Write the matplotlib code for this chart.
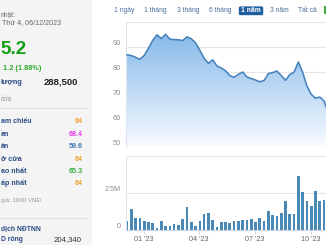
import matplotlib
matplotlib.use('Agg')
import matplotlib.pyplot as plt
import matplotlib.dates as mdates
from matplotlib.transforms import offset_copy
from matplotlib.patches import Rectangle, FancyBboxPatch
from matplotlib.colors import LinearSegmentedColormap
from matplotlib.lines import Line2D
import numpy as np
import pandas as pd

plt.rcParams['font.family'] = ['Liberation Sans', 'DejaVu Sans']

# ---------------- data ----------------
week_start = '2022-12-04'
prices = [87.0, 86.7, 86.0, 85.2, 86.7, 89.6, 92.8, 95.0, 93.5, 95.2,
          93.3, 93.1, 93.0, 92.7, 94.2, 93.4, 91.8, 88.8, 85.6, 83.6,
          85.0, 82.5, 81.7, 80.6, 78.7, 78.0, 79.2, 80.1, 78.1, 77.5,
          76.9, 76.2, 76.7, 79.5, 79.9, 80.5, 78.7, 76.8, 79.1, 80.1,
          84.1, 80.0, 74.5, 71.2, 69.6, 70.1, 68.5, 63.5, 62.8, 63.2,
          64.0, 64.0, 65.2]
volumes_m = [0.61, 1.41, 0.82, 0.80, 0.59, 0.57, 0.48, 0.11, 0.61, 0.30,
             0.30, 0.41, 0.32, 0.75, 1.55, 0.55, 0.30, 0.64, 1.11, 1.16,
             0.70, 0.18, 0.55, 0.55, 0.48, 0.64, 0.64, 0.70, 0.70, 0.73,
             0.55, 0.80, 0.64, 1.27, 1.02, 0.93, 1.16, 1.95, 1.11, 1.07,
             3.64, 2.59, 1.95, 1.61, 2.66, 1.98, 2.05, 2.30, 1.80, 1.60,
             1.50, 1.40, 0.29]
price_ticks = [50, 60, 70, 80, 90]
vol_ticks = [0, 2.5]
vol_tick_labels = ['0', '2.5M']
month_ticks = ['2023-01-01', '2023-04-01', '2023-07-01', '2023-10-01']
month_labels = ["01 '23", "04 '23", "07 '23", "10 '23"]
range_buttons = ['1 ngày', '1 tháng', '3 tháng', '6 tháng', '1 năm', '3 năm', 'Tất cả']
selected_button = '1 năm'

# visible (cropped) parts of the info panel labels
info_labels = ['am chiếu', 'ần', 'àn', 'ở cửa', 'ao nhất', 'ấp nhất']
info_values = ['64', '68.4', '59.6', '64', '65.3', '64']
info_colors = ['#f0a030', '#e838e8', '#3f78b8', '#f0a030', '#3cb043', '#f0a030']

last_price = '5.2'
change_text = '1.2 (1.88%)'
update_label = 'nhật:'
update_date = 'Thứ 4, 06/12/2023'
volume_label = 'lượng'
volume_text = '288,500'
close_label = 'cửa'
unit_text = 'giá: 1000 VNĐ'
foreign_title = 'dịch NĐTNN'
foreign_label = 'D ròng'
foreign_net = '204,340'

# ---------------- figure ----------------
W, H, DPI = 326, 245, 100
fig = plt.figure(figsize=(W / DPI, H / DPI), dpi=DPI)
fig.patch.set_facecolor('white')


def fx(x):
    return x / W


def fy(y):
    return 1 - y / H


def ftext(x, y, s, ha='left', va='center', **kw):
    fig.text(fx(x), fy(y), s, ha=ha, va=va, **kw)


# left info panel
fig.add_artist(Rectangle((0, 0), fx(92), 1, transform=fig.transFigure,
                         facecolor='#f4f4f4', edgecolor='none', zorder=0))
for yy in (108, 218):
    fig.add_artist(Line2D([0, fx(87)], [fy(yy), fy(yy)], transform=fig.transFigure,
                          color='#e2e2e2', lw=0.8))

label_col = '#2b4c85'
L = 0.6
ftext(L, 15, update_label, color='#666666', fontsize=4.8)
ftext(2.5, 22.7, update_date, color='#666666', fontsize=5.1)
ftext(L, 50, last_price, color='#11a011', fontsize=13.6, fontweight='bold')
ftext(3.3, 68.3, change_text, color='#2eaa2e', fontsize=5.3, fontweight='bold')
ftext(L, 82.7, volume_label, color=label_col, fontsize=5.3, fontweight='bold')
ftext(77.5, 81.5, volume_text, ha='right', color='#222222', fontsize=6.8, fontweight='bold')
ftext(L, 99.3, close_label, color='#9a9a9a', fontsize=4.8)

row_y = [121.5, 134.5, 146.7, 159.3, 171.7, 183.3]
label_size = [5.0, 5.1, 5.1, 5.3, 5.1, 5.1]
for lab, val, col, yy, fs in zip(info_labels, info_values, info_colors, row_y, label_size):
    ftext(L, yy, lab, color=label_col, fontsize=fs, fontweight='bold')
    ftext(82.5, yy, val, ha='right', color=col, fontsize=5.1, fontweight='bold')

ftext(L, 200.7, unit_text, color='#9a9a9a', fontsize=4.4)
ftext(L, 228.3, foreign_title, color=label_col, fontsize=4.9, fontweight='bold')
ftext(L, 239.5, foreign_label, color=label_col, fontsize=4.9, fontweight='bold')
ftext(82, 240, foreign_net, ha='right', color='#333333', fontsize=5.6)

# range buttons
btn_x = [124.3, 155.7, 188.0, 220.7, 251.0, 279.5, 307.3]
for name, bx in zip(range_buttons, btn_x):
    if name == selected_button:
        fig.add_artist(FancyBboxPatch((fx(238.8), fy(15.2)), fx(24.4), 8.8 / H,
                                      boxstyle='round,pad=0,rounding_size=0.006',
                                      transform=fig.transFigure, facecolor='#1f5e9c',
                                      edgecolor='none'))
        ftext(bx, 10.4, name, ha='center', color='white', fontsize=4.9, fontweight='bold')
    else:
        ftext(bx, 10.4, name, ha='center', color='#4b6d9c', fontsize=4.9)
fig.add_artist(Rectangle((fx(323.5), fy(14.5)), fx(2.2), 8 / H, transform=fig.transFigure,
                         facecolor='#3cb043', edgecolor='none'))

# ---------------- charts ----------------
dates = pd.date_range(week_start, periods=len(prices), freq='7D')
x = mdates.date2num(dates)
x0 = mdates.date2num(pd.Timestamp('2022-12-01 12:00'))
x1 = mdates.date2num(pd.Timestamp('2023-12-06'))
ax_left, ax_w = 125.5, 226.1

ax_p = fig.add_axes([fx(ax_left), fy(147.3), ax_w / W, 125 / H])
ax_v = fig.add_axes([fx(ax_left), fy(230), ax_w / W, 74 / H])

# price area
ymin, ymax = 50, 100
poly = ax_p.fill_between(x, prices, ymin, color='none', lw=0)
cmap = LinearSegmentedColormap.from_list('g', ['#f8fbff', '#7bb3e8'])
grad = np.linspace(1, 0, 256).reshape(-1, 1)
im = ax_p.imshow(grad, extent=[x0, x1, ymin, ymax], aspect='auto', cmap=cmap,
                 origin='upper', zorder=1, interpolation='bilinear')
im.set_clip_path(poly.get_paths()[0], transform=ax_p.transData)
ax_p.plot(x, prices, color='#4683bd', lw=1.15, zorder=3, solid_joinstyle='round')
ax_p.set_xlim(x0, x1)
ax_p.set_ylim(ymin, ymax)
ax_p.set_yticks(price_ticks + [100])
ax_p.yaxis.grid(True, color='#e6e6e6', lw=0.8)
ax_p.set_axisbelow(True)
ax_p.tick_params(left=False, bottom=False, labelleft=False, labelbottom=False)
for s in ('top', 'right', 'bottom'):
    ax_p.spines[s].set_visible(False)
ax_p.spines['left'].set_color('#dfe5ee')
ax_p.spines['left'].set_linewidth(0.8)
tr = offset_copy(ax_p.get_yaxis_transform(), fig=fig, x=-4.8, y=4, units='dots')
for v in price_ticks:
    ax_p.text(0, v, str(v), transform=tr, ha='right', va='center', fontsize=5.3, color='#8a8a8a')

# volume bars
vols = [v * 1e6 for v in volumes_m]
ax_v.bar(x, vols, width=4.4, color='#4a88b5', zorder=2)
ax_v.set_xlim(x0, x1)
ax_v.set_ylim(0, 5e6)
ax_v.set_yticks([2.5e6, 5e6])
ax_v.yaxis.grid(True, color='#e6e6e6', lw=0.8)
ax_v.set_axisbelow(True)
ax_v.tick_params(left=False, labelleft=False)
mt = mdates.date2num(pd.to_datetime(month_ticks))
ax_v.set_xticks(mt)
ax_v.set_xticklabels(month_labels)
ax_v.tick_params(axis='x', length=2.9, width=0.7, color='#ccd6eb', pad=1.2,
                 labelsize=5.2, labelcolor='#666666')
for s in ('top', 'right'):
    ax_v.spines[s].set_visible(False)
ax_v.spines['left'].set_color('#dfe5ee')
ax_v.spines['left'].set_linewidth(0.8)
ax_v.spines['bottom'].set_color('#ccd6eb')
ax_v.spines['bottom'].set_linewidth(0.8)
trv = offset_copy(ax_v.get_yaxis_transform(), fig=fig, x=-4.8, y=3.5, units='dots')
for v, lab in zip(vol_ticks, vol_tick_labels):
    ax_v.text(0, v * 1e6, lab, transform=trv, ha='right', va='center', fontsize=5.2, color='#8a8a8a')

fig.savefig('out.png', dpi=DPI)
